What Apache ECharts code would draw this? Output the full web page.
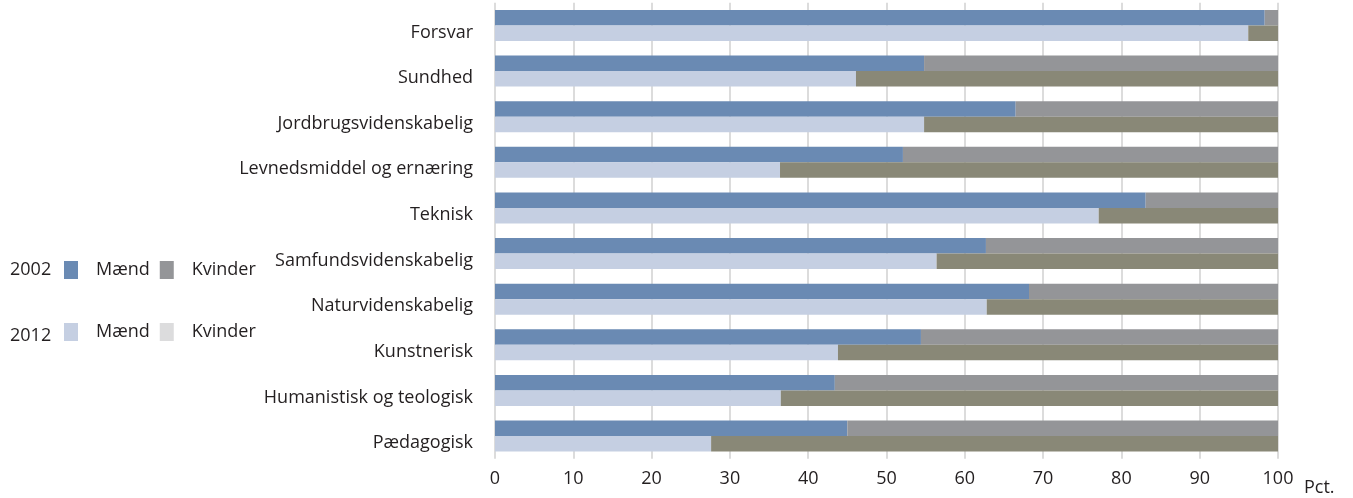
<!DOCTYPE html>
<html>
<head>
<meta charset="utf-8">
<script src="https://cdn.jsdelivr.net/npm/echarts@6/dist/echarts.min.js"></script>
<style>
html,body{margin:0;padding:0;background:#fff;}
#c{width:1353px;height:498px;}
</style>
</head>
<body>
<div id="c"></div>
<script>
var categories = ['Forsvar','Sundhed','Jordbrugsvidenskabelig','Levnedsmiddel og ernæring','Teknisk','Samfundsvidenskabelig','Naturvidenskabelig','Kunstnerisk','Humanistisk og teologisk','Pædagogisk'];
var maend2002   = [98.3, 54.8, 66.5, 52.1, 83.1, 62.7, 68.2, 54.4, 43.4, 45.0];
var kvinder2002 = [1.7, 45.2, 33.5, 47.9, 16.9, 37.3, 31.8, 45.6, 56.6, 55.0];
var maend2012   = [96.2, 46.1, 54.8, 36.4, 77.1, 56.4, 62.8, 43.8, 36.5, 27.6];
var kvinder2012 = [3.8, 53.9, 45.2, 63.7, 22.9, 43.6, 37.2, 56.2, 63.5, 72.4];
var xTicks = [0,10,20,30,40,50,60,70,80,90,100];

var FONT = 'Open Sans';
var FS = 18;
var TXT = '#231f20';
var chart = echarts.init(document.getElementById('c'), null, {renderer:'canvas'});

function bar(name, stack, data, color){
  return {name:name, type:'bar', stack:stack, data:data, barWidth:15.5, barGap:'0%',
    itemStyle:{color:color}, emphasis:{disabled:true}, silent:true};
}

var legendText = {fontFamily:FONT, fontSize:FS, color:TXT, padding:[0,0,0,13]};
chart.setOption({
  animation:false,
  grid:{left:495, right:75, top:2.7, bottom:39.2, containLabel:false},
  xAxis:{type:'value', min:0, max:100, interval:10,
    axisLine:{show:false}, axisTick:{show:false},
    splitLine:{show:true, lineStyle:{color:'#dcdcdc', width:2}},
    axisLabel:{fontFamily:FONT, fontSize:FS, color:TXT, margin:11,
      formatter:function(v){return xTicks.indexOf(v)>=0?String(v):'';}},
    name:'Pct.', nameLocation:'end', nameGap:26,
    nameTextStyle:{fontFamily:FONT, fontSize:FS, color:TXT, verticalAlign:'top', padding:[20,0,0,0]}
  },
  yAxis:{type:'category', data:categories, inverse:true,
    axisLine:{show:false}, axisTick:{show:false},
    axisLabel:{color:TXT, margin:22,
      formatter:function(v){return '{l|'+v+'}';},
      rich:{l:{fontFamily:FONT, fontSize:FS, color:TXT, padding:[14,0,0,0]}}}
  },
  legend:[
    {left:64, top:261, padding:0, itemWidth:14, itemHeight:18, itemGap:10, icon:'rect',
     selectedMode:false, textStyle:legendText,
     formatter:function(n){return n.split(' ')[1];},
     data:['2002 Mænd','2002 Kvinder']},
    {left:64, top:323, padding:0, itemWidth:14, itemHeight:18, itemGap:10, icon:'rect',
     selectedMode:false, textStyle:legendText,
     formatter:function(n){return n.split(' ')[1];},
     data:[{name:'2012 Mænd'},{name:'2012 Kvinder', itemStyle:{color:'#dcdcdd'}}]}
  ],
  graphic:[
    {type:'text', left:10, top:261, style:{text:'2002', font:FS+'px "Open Sans"', fill:TXT}},
    {type:'text', left:10, top:327, style:{text:'2012', font:FS+'px "Open Sans"', fill:TXT}}
  ],
  series:[
    bar('2002 Mænd','y2002',maend2002,'#6a8ab3'),
    bar('2002 Kvinder','y2002',kvinder2002,'#949598'),
    bar('2012 Mænd','y2012',maend2012,'#c5cfe2'),
    bar('2012 Kvinder','y2012',kvinder2012,'#898877')
  ]
});
</script>
</body>
</html>
